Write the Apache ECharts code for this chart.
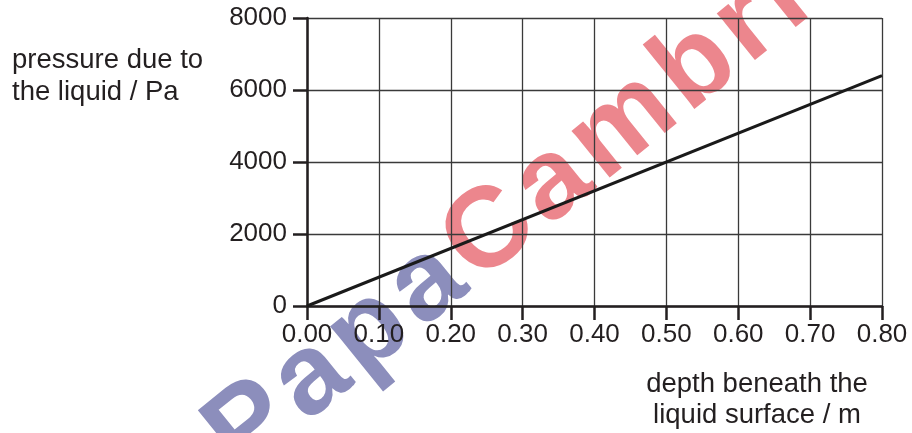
<!DOCTYPE html>
<html>
<head>
<meta charset="utf-8">
<script src="https://cdn.jsdelivr.net/npm/echarts@6/dist/echarts.min.js"></script>
<style>
html,body{margin:0;padding:0;background:#fff;}
#chart{width:912px;height:433px;}
</style>
</head>
<body>
<div id="chart"></div>
<script>
const depth = [0.00, 0.80];
const pressure = [0, 6400];
const xTickLabels = ['0.00','0.10','0.20','0.30','0.40','0.50','0.60','0.70','0.80'];
const yTickLabels = ['0','2000','4000','6000','8000'];
const yTitle = ['pressure due to', 'the liquid / Pa'];
const xTitle = ['depth beneath the', 'liquid surface / m'];
const watermarkBlue = 'Papa';
const watermarkRed = 'Cambridge';

const FONT = '"Liberation Sans", Arial, sans-serif';
const TXT = '#231f20';

// watermark letters laid along a rotated baseline (decoration only)
const advance = {P:.667,a:.556,p:.611,C:.722,m:.889,b:.611,r:.389,i:.278,d:.611,g:.611,e:.556};
function watermark() {
  const em = 114, gap = 8, ang = 39 * Math.PI / 180;
  const ux = Math.cos(ang), uy = -Math.sin(ang);
  const letters = (watermarkBlue + watermarkRed).split('');
  const cIdx = watermarkBlue.length;
  const centers = [];
  let t = 0;
  letters.forEach((ch, i) => {
    if (i > 0) t += advance[letters[i-1]] * em / 2 + gap + advance[ch] * em / 2;
    centers.push(t);
  });
  const t0 = centers[cIdx];
  const ax = 490, ay = 234;
  return letters.map((ch, i) => ({
    type: 'text', z: -100, silent: true,
    x: ax + (centers[i] - t0) * ux,
    y: ay + (centers[i] - t0) * uy,
    rotation: ang,
    style: {
      text: ch, font: 'bold ' + em + 'px ' + FONT,
      fill: i < cIdx ? '#8c8ebc' : '#ec868d',
      textAlign: 'center', textVerticalAlign: 'middle'
    }
  }));
}

const chart = echarts.init(document.getElementById('chart'), null, {renderer: 'canvas'});
chart.setOption({
  animation: false,
  backgroundColor: '#fff',
  grid: {left: 307, right: 30, top: 18, bottom: 127, containLabel: false},
  xAxis: {
    type: 'value', min: 0, max: 0.8, interval: 0.1,
    axisLine: {show: true, onZero: false, lineStyle: {color: '#231f20', width: 2.5}},
    axisTick: {show: true, length: 14, lineStyle: {color: '#231f20', width: 2.5}},
    axisLabel: {
      margin: 16, fontSize: 26, fontFamily: FONT, color: TXT,
      formatter: v => xTickLabels[Math.round(v * 10)]
    },
    splitLine: {show: true, lineStyle: {color: '#3a3a3a', width: 1.3}}
  },
  yAxis: {
    type: 'value', min: 0, max: 8000, interval: 2000,
    axisLine: {show: true, onZero: false, lineStyle: {color: '#231f20', width: 2.5}},
    axisTick: {show: true, length: 14, lineStyle: {color: '#231f20', width: 2.5}},
    axisLabel: {
      margin: 20, fontSize: 26, fontFamily: FONT, color: TXT, padding: [6, 0, 0, 0],
      formatter: v => yTickLabels[Math.round(v / 2000)]
    },
    splitLine: {show: true, lineStyle: {color: '#3a3a3a', width: 1.3}}
  },
  series: [{
    type: 'line',
    data: depth.map((d, i) => [d, pressure[i]]),
    symbol: 'none',
    lineStyle: {color: '#1a1a1a', width: 3},
    z: 5
  }],
  graphic: [
    {
      type: 'text', left: 12, top: 44, z: 10,
      style: {text: yTitle.join('\n'), font: '27.5px ' + FONT, fill: TXT, lineHeight: 32, textAlign: 'left'}
    },
    {
      type: 'text', x: 757, y: 369, z: 10,
      style: {text: xTitle.join('\n'), font: '27.5px ' + FONT, fill: TXT, lineHeight: 31, textAlign: 'center', textVerticalAlign: 'top'}
    }
  ].concat(watermark())
});
</script>
</body>
</html>
